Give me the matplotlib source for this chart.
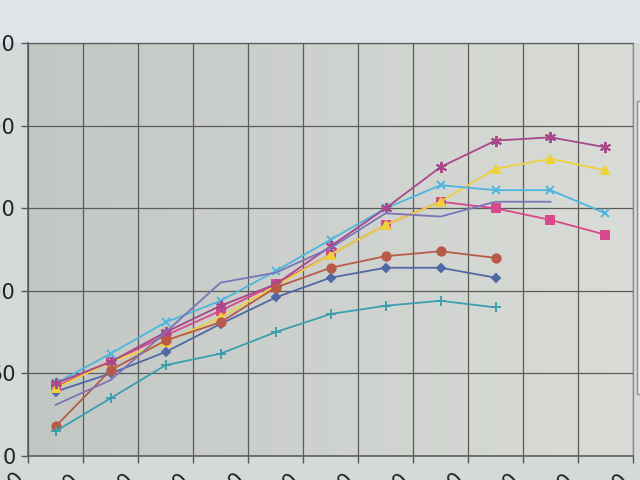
import numpy as np
import matplotlib
matplotlib.use('Agg')
import matplotlib.pyplot as plt
import matplotlib.patches as patches

nan = np.nan

# category labels (only their tops show at the bottom edge of the photo)
categories = ['0', '10', '20', '30', '40', '50', '60', '70', '80', '90', '100', '110']

# series values, 11 categories, nan = no point
s_diamond = [39, 50, 63, 80, 96, 108, 114, 114, 108, nan, nan]
s_square = [42, 57, 73, 88, 104, 122, 140, 154, 150, 143, 134]
s_triangle = [41, 57, 69, 84, 103, 122, 140, 154, 174, 180, 173]
s_cross = [44, 62, 81, 94, 112, 131, 150, 164, 161, 161, 147]
s_star = [44, 57, 75, 91, 104, 127, 150, 175, 191, 193, 187]
s_circle = [18, 52, 70, 81, 102, 114, 121, 124, 120, nan, nan]
s_plus = [15, 35, 55, 62, 75, 86, 91, 94, 90, nan, nan]
s_plain = [31, 46, 75, 105, 111, 126, 147, 145, 154, 154, nan]

y_ticks = [0, 50, 100, 150, 200, 250]

series = [
    (s_diamond, '#5068a6', 'D', 4.5),
    (s_square, '#d8488a', 's', 6),
    (s_triangle, '#eed23c', '^', 6),
    (s_cross, '#4cb6de', 'x', 6),
    (s_star, '#a8478a', (6, 2, 0), 8),
    (s_circle, '#b85a48', 'o', 6),
    (s_plus, '#3b9fae', '+', 7),
    (s_plain, '#7a74b8', None, 0),
]

fig = plt.figure(figsize=(6.4, 4.8), dpi=100)
fig.patch.set_facecolor('#d6d9da')

# lighter strip at the top of the photo
top = patches.Rectangle((0, 0.91), 1, 0.09, transform=fig.transFigure,
                        facecolor='#e0e4e8', edgecolor='none', zorder=-1)
fig.patches.append(top)
# edge of the legend box at the far right
lg = patches.Rectangle((0.995, 0.18), 0.05, 0.61, transform=fig.transFigure,
                       facecolor='#e6e8e6', edgecolor='#8a8c8a', lw=1, zorder=-1)
fig.patches.append(lg)

ax = fig.add_axes([0.044, 0.05, 0.945, 0.86])
ax.set_facecolor('#cdd1ce')

# slight left-to-right shading of the plot area
grad = np.linspace(0, 1, 256).reshape(1, -1)
cmap = matplotlib.colors.LinearSegmentedColormap.from_list('bg', ['#c3c7c4', '#d9dcd7'])
ax.imshow(grad, extent=[0, 1, 0, 1], transform=ax.transAxes, aspect='auto',
          cmap=cmap, zorder=0)

x = np.arange(len(s_square))
for vals, col, mk, ms in series:
    ax.plot(x, vals, color=col, lw=1.3, marker=mk, markersize=ms,
            markeredgewidth=1.4, zorder=3)

ax.set_xlim(-0.5, 10.5)
ax.set_ylim(0, 250)
ax.set_xticks(np.arange(-0.5, 11, 1))
ax.set_xticklabels(categories, rotation=45, ha='right', fontsize=15, color='#222222')
ax.set_yticks(y_ticks)
ax.set_yticklabels([str(v) for v in y_ticks], fontsize=15, color='#222222')
ax.tick_params(axis='both', length=5, width=1, color='#555555', pad=4)
ax.grid(True, color='#5a5c5a', lw=0.9, zorder=1)
ax.set_axisbelow(False)
for side in ['left', 'bottom']:
    ax.spines[side].set_color('#555555')
    ax.spines[side].set_linewidth(1.1)
for side in ['top', 'right']:
    ax.spines[side].set_color('#8a8c8a')
    ax.spines[side].set_linewidth(1.0)

fig.savefig('out.png', dpi=100, facecolor=fig.get_facecolor())
